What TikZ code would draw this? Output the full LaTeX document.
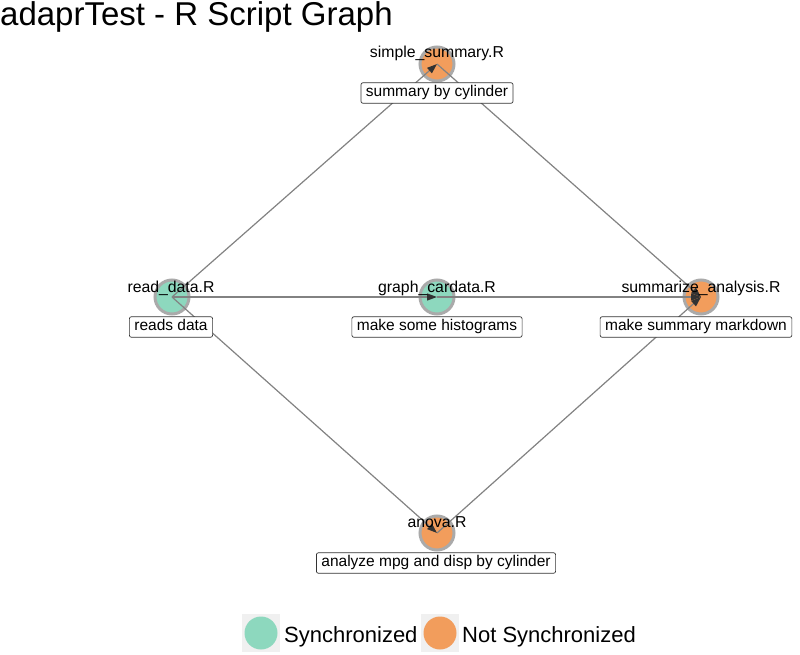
\documentclass[tikz,border=0pt]{standalone}
\usepackage{fontspec}
\setmainfont{Liberation Sans}
\usetikzlibrary{arrows.meta}
\definecolor{syncc}{RGB}{141,216,190}
\definecolor{notsc}{RGB}{242,157,92}
\definecolor{ringc}{RGB}{170,170,170}
\definecolor{edgec}{RGB}{130,130,130}
\definecolor{tipc}{RGB}{50,50,50}
\definecolor{legbg}{RGB}{240,240,240}
\tikzset{
  x=1pt, y=-1pt,
  scriptnode/.style={circle, draw=ringc, line width=3pt, minimum size=34pt, inner sep=0pt},
  syncnode/.style={scriptnode, fill=syncc},
  notsnode/.style={scriptnode, fill=notsc},
  scriptlabel/.style={font=\fontsize{15.8}{18}\selectfont, anchor=base, inner sep=0pt},
  descbox/.style={draw=black!80, fill=white, rounded corners=2pt, line width=0.7pt,
    font=\fontsize{15.5}{18}\selectfont, inner xsep=5pt, inner ysep=3pt, text height=11pt, text depth=3.5pt},
  edgeline/.style={draw=edgec, line width=1.2pt, -{Triangle[length=10pt,width=7pt,color=tipc]}},
  legsq/.style={fill=legbg, minimum size=38pt, inner sep=0pt},
  legdot/.style={circle, minimum size=33pt, inner sep=0pt},
  legtxt/.style={font=\fontsize{22}{26}\selectfont, anchor=base west, inner sep=0pt}
}
\begin{document}
\begin{tikzpicture}
\useasboundingbox (0,0) rectangle (800,655);
\node[anchor=base west, inner sep=0pt, font=\fontsize{33}{38}\selectfont] (title) at (0,26) {adaprTest - R Script Graph};

% script nodes
\node[notsnode] (ss) at (437,64) {};
\node[syncnode] (rd) at (172,297) {};
\node[syncnode] (gc) at (437,297) {};
\node[notsnode] (sa) at (701,297) {};
\node[notsnode] (an) at (437,533) {};

% edges
\draw[edgeline] (rd.center) -- (ss.center);
\draw[edgeline] (rd.center) -- (gc.center);
\draw[edgeline] (rd.center) -- (an.center);
\draw[edgeline] (gc.center) -- (sa.center);
\draw[edgeline] (an.center) -- (sa.center);
\draw[edgeline] (ss.center) -- (sa.center);

% names
\node[scriptlabel] (ssn) at (437,58) {simple\_summary.R};
\node[scriptlabel] (rdn) at (171,292) {read\_data.R};
\node[scriptlabel] (gcn) at (437,292) {graph\_cardata.R};
\node[scriptlabel] (san) at (701,292) {summarize\_analysis.R};
\node[scriptlabel] (ann) at (437,527) {anova.R};

% descriptions
\node[descbox] (ssd) at (437,93) {summary by cylinder};
\node[descbox] (rdd) at (171,327) {reads data};
\node[descbox] (gcd) at (437,327) {make some histograms};
\node[descbox] (sad) at (696,327) {make summary markdown};
\node[descbox] (and) at (436,563) {analyze mpg and disp by cylinder};

% legend
\node[legsq] (l1sq) at (261,633) {};
\node[legdot, fill=syncc] (l1) at (261,633) {};
\node[legtxt] (l1t) at (284,642) {Synchronized};
\node[legsq] (l2sq) at (440,633) {};
\node[legdot, fill=notsc] (l2) at (440,633) {};
\node[legtxt] (l2t) at (462,642) {Not Synchronized};
\end{tikzpicture}
\end{document}
